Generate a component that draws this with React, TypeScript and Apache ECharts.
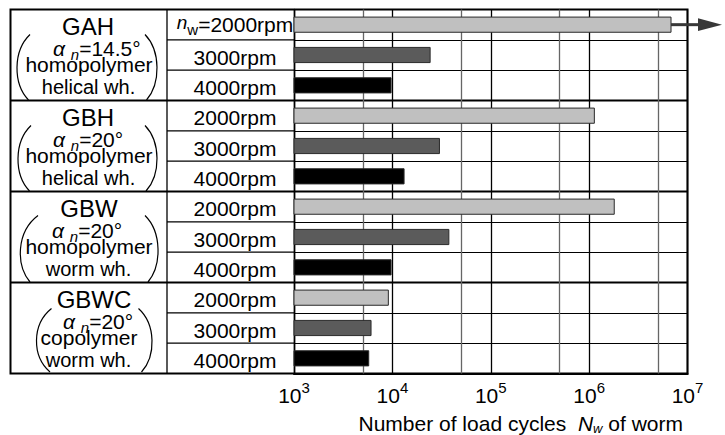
import React, { useEffect, useRef } from "react";
import * as echarts from "echarts";

// ---------- data ----------
const groupNames = ["GAH", "GBH", "GBW", "GBWC"];
const pressureAngles = ["14.5", "20", "20", "20"];
const wheelMaterials = ["homopolymer", "homopolymer", "homopolymer", "copolymer"];
const wheelTypes = ["helical wh.", "helical wh.", "worm wh.", "worm wh."];
const speeds = ["2000rpm", "3000rpm", "4000rpm"];
const cycles2000 = [6.8e6, 1.13e6, 1.8e6, 9100];
const cycles3000 = [24200, 30100, 37500, 6070];
const cycles4000 = [9700, 13150, 9700, 5750];
const runOut2000 = [1, 0, 0, 0];
const axisMin = 1e3;
const axisMax = 1e7;
const halfDecadeLines = [5e3, 5e4, 5e5, 5e6];
const axisTitleParts = ["Number of load cycles  ", "N", "w", " of worm"];

// ---------- layout ----------
const FONT = "'Liberation Sans', Arial, Helvetica, sans-serif";
const FRAME_L = 10.5;
const FRAME_T = 9.5;
const FRAME_R = 687.5;
const FRAME_B = 373.5;
const COL_DIV = 167;
const PLOT_L = 294;
const ROW_H = (FRAME_B - FRAME_T) / 12;
const GROUP_H = ROW_H * 3;
const speedColors = ["#c0c0c0", "#5b5b5b", "#000000"];
const nameX = [88, 88, 89, 94];
const angleX = [53, 53, 52, 63];
const textOffsets = { name: 16.5, angle: 38.5, polymer: 55, wheel: 77 };
const parenLayout = [
  { lt: 30, lm: 17, lb: 28.5, rt: 145, rm: 157, rb: 146.5, top: 25, bot: 90.5 },
  { lt: 31, lm: 18, lb: 29.5, rt: 145, rm: 157, rb: 146, top: 25, bot: 90.5 },
  { lt: 38, lm: 20.5, lb: 30, rt: 145, rm: 158, rb: 148, top: 24, bot: 90.5 },
  { lt: 51.5, lm: 36.5, lb: 50, rt: 138.5, rm: 152, rb: 141.5, top: 26, bot: 89.5 },
];

const rowIds: string[] = [];
const barData: number[][] = [];
const speedSeries = [cycles2000, cycles3000, cycles4000];
groupNames.forEach((g, gi) => {
  speeds.forEach((s, si) => {
    const idx = rowIds.length;
    rowIds.push(g + " " + s);
    barData.push([idx, speedSeries[si][gi], si, si === 0 ? runOut2000[gi] : 0]);
  });
});

function paren(x0: number, xm: number, x3: number, y0: number, y3: number) {
  const cx = (xm - 0.125 * (x0 + x3)) / 0.75;
  const dy = y3 - y0;
  return {
    type: "bezierCurve",
    silent: true,
    z: 10,
    shape: { x1: x0, y1: y0, x2: x3, y2: y3, cpx1: cx, cpy1: y0 + dy * 0.25, cpx2: cx, cpy2: y0 + dy * 0.75 },
    style: { stroke: "#000", lineWidth: 1.2, fill: "none" },
  };
}

function buildGraphics() {
  const els: any[] = [];
  els.push({
    type: "rect",
    silent: true,
    z: 4,
    shape: { x: FRAME_L, y: FRAME_T, width: FRAME_R - FRAME_L, height: FRAME_B - FRAME_T },
    style: { fill: "none", stroke: "#000", lineWidth: 2 },
  });
  els.push({
    type: "line",
    silent: true,
    z: 4,
    shape: { x1: COL_DIV, y1: FRAME_T, x2: COL_DIV, y2: FRAME_B },
    style: { stroke: "#000", lineWidth: 1.3 },
  });
  for (let r = 1; r < 12; r++) {
    const y = FRAME_T + r * ROW_H;
    if (r % 3 === 0) {
      els.push({
        type: "line",
        silent: true,
        z: 4,
        shape: { x1: FRAME_L, y1: y, x2: FRAME_R, y2: y },
        style: { stroke: "#000", lineWidth: 1.8 },
      });
    } else {
      els.push({
        type: "line",
        silent: true,
        z: 4,
        shape: { x1: COL_DIV, y1: y, x2: PLOT_L, y2: y },
        style: { stroke: "#000", lineWidth: 1.1 },
      });
    }
  }
  groupNames.forEach((g, gi) => {
    const top = FRAME_T + gi * GROUP_H;
    els.push({
      type: "text",
      silent: true,
      z: 10,
      x: nameX[gi],
      y: top + textOffsets.name,
      style: { text: g, fontFamily: FONT, fontSize: 24, fill: "#000", align: "center", verticalAlign: "middle" },
    });
    els.push({
      type: "text",
      silent: true,
      z: 10,
      x: angleX[gi],
      y: top + textOffsets.angle,
      style: {
        text: "{a|α }{n|n}{t|=" + pressureAngles[gi] + "°}",
        fontFamily: FONT,
        fontSize: 21,
        fill: "#000",
        align: "left",
        verticalAlign: "middle",
        rich: {
          a: { fontFamily: FONT, fontSize: 21, fontStyle: "italic", lineHeight: 22, fill: "#000" },
          n: { fontFamily: FONT, fontSize: 15, fontStyle: "italic", lineHeight: 12, height: 10, verticalAlign: "bottom", fill: "#000" },
          t: { fontFamily: FONT, fontSize: 21, lineHeight: 22, fill: "#000" },
        },
      },
    });
    els.push({
      type: "text",
      silent: true,
      z: 10,
      x: 89,
      y: top + textOffsets.polymer,
      style: { text: wheelMaterials[gi], fontFamily: FONT, fontSize: 21, fill: "#000", align: "center", verticalAlign: "middle" },
    });
    els.push({
      type: "text",
      silent: true,
      z: 10,
      x: 88.5,
      y: top + textOffsets.wheel,
      style: { text: wheelTypes[gi], fontFamily: FONT, fontSize: 20, fill: "#000", align: "center", verticalAlign: "middle" },
    });
    const p = parenLayout[gi];
    els.push(paren(p.lt, p.lm, p.lb, top + p.top, top + p.bot));
    els.push(paren(p.rt, p.rm, p.rb, top + p.top, top + p.bot));
  });
  els.push({
    type: "text",
    silent: true,
    z: 10,
    x: 683,
    y: 423,
    style: {
      text: "{t|" + axisTitleParts[0] + "}{N|" + axisTitleParts[1] + "}{w|" + axisTitleParts[2] + "}{t|" + axisTitleParts[3] + "}",
      fontFamily: FONT,
      fontSize: 21,
      fill: "#000",
      align: "right",
      verticalAlign: "middle",
      rich: {
        t: { fontFamily: FONT, fontSize: 21, lineHeight: 26, fill: "#000" },
        N: { fontFamily: FONT, fontSize: 21, fontStyle: "italic", lineHeight: 26, fill: "#000" },
        w: { fontFamily: FONT, fontSize: 13, fontStyle: "italic", lineHeight: 14, height: 16, verticalAlign: "bottom", fill: "#000" },
      },
    },
  });
  return els;
}

export default function App() {
  const ref = useRef<HTMLDivElement>(null);
  useEffect(() => {
    document.body.style.margin = "0";
    const chart = echarts.init(ref.current as HTMLDivElement, null, { renderer: "svg" });
    const option: any = {
      animation: false,
      backgroundColor: "#ffffff",
      grid: { left: PLOT_L, top: FRAME_T, right: 725 - FRAME_R, bottom: 435 - FRAME_B, containLabel: false },
      xAxis: {
        type: "log",
        logBase: 10,
        min: axisMin,
        max: axisMax,
        axisLine: { show: true, lineStyle: { color: "#000", width: 2.2 } },
        axisTick: { show: false },
        splitLine: { show: true, lineStyle: { color: "#000", width: 1.3 } },
        axisLabel: {
          margin: 6.5,
          showMinLabel: true,
          showMaxLabel: true,
          hideOverlap: false,
          formatter: (v: number) => "{b|10}{s|" + Math.round(Math.log10(v)) + "}",
          rich: {
            b: { fontFamily: FONT, fontSize: 21, lineHeight: 30, color: "#000" },
            s: { fontFamily: FONT, fontSize: 15, lineHeight: 10, verticalAlign: "top", color: "#000" },
          },
        },
      },
      yAxis: {
        type: "category",
        inverse: true,
        data: rowIds,
        axisLine: { show: true, lineStyle: { color: "#000", width: 1.3 } },
        axisTick: { show: false },
        splitLine: { show: true, interval: 0, lineStyle: { color: "#000", width: 1 } },
        axisLabel: {
          interval: 0,
          align: "center",
          margin: 59,
          formatter: (_v: string, i: number) =>
            i === 0 ? "{n|n}{w|w}{r0|=" + speeds[0] + "}" : "{r|" + speeds[i % 3] + "}",
          rich: {
            r: { fontFamily: FONT, fontSize: 21, lineHeight: 24, padding: [4, 0, 0, 0], color: "#000" },
            r0: { fontFamily: FONT, fontSize: 21, lineHeight: 24, color: "#000" },
            n: { fontFamily: FONT, fontSize: 19, fontStyle: "italic", lineHeight: 19, verticalAlign: "top", color: "#000" },
            w: { fontFamily: FONT, fontSize: 15, lineHeight: 22, verticalAlign: "bottom", color: "#000" },
          },
        },
      },
      graphic: buildGraphics(),
      series: [
        {
          type: "line",
          data: [],
          silent: true,
          z: 1,
          markLine: {
            silent: true,
            animation: false,
            symbol: ["none", "none"],
            label: { show: false },
            lineStyle: { color: "#666", width: 1.3, type: "solid" },
            data: halfDecadeLines.map((v) => ({ xAxis: v })),
          },
        },
        {
          type: "custom",
          z: 5,
          silent: true,
          encode: { x: 1, y: 0 },
          data: barData,
          renderItem: (_p: any, api: any) => {
            const row = api.value(0);
            const v = api.value(1);
            const si = api.value(2);
            const ro = api.value(3);
            const start = api.coord([axisMin, row]);
            const end = api.coord([v, row]);
            const bh = api.size([0, 1])[1] * 0.5;
            const y = end[1];
            const children: any[] = [
              {
                type: "rect",
                shape: { x: start[0], y: y - bh / 2, width: end[0] - start[0], height: bh },
                style: { fill: speedColors[si], stroke: "#2a2a2a", lineWidth: 1 },
              },
            ];
            if (ro) {
              children.push({
                type: "line",
                shape: { x1: end[0], y1: y, x2: end[0] + 30, y2: y },
                style: { stroke: "#383838", lineWidth: 3 },
              });
              children.push({
                type: "polygon",
                shape: { points: [[end[0] + 27, y - 6.3], [end[0] + 51, y], [end[0] + 27, y + 6.3]] },
                style: { fill: "#383838" },
              });
            }
            return { type: "group", children };
          },
        },
      ],
    };
    chart.setOption(option);
    return () => chart.dispose();
  }, []);
  return <div ref={ref} style={{ width: 725, height: 435 }} />;
}
